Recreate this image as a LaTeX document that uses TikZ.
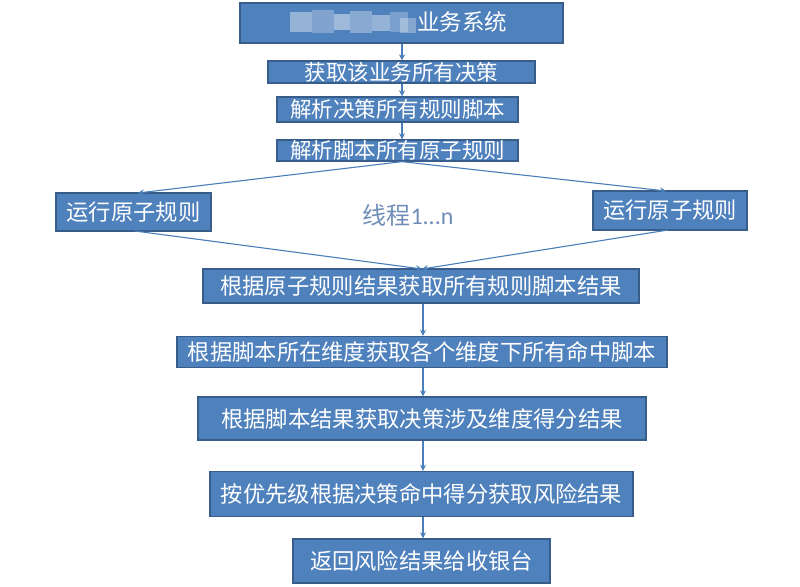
\documentclass[tikz,border=0pt]{standalone}
\usepackage{fontspec}
\newfontfamily\cjk{Noto Sans CJK SC}
\newfontfamily\latinf{Carlito}
\usetikzlibrary{arrows.meta}
\definecolor{boxfill}{HTML}{4F81BD}
\definecolor{boxline}{HTML}{385D8A}
\definecolor{conn}{HTML}{4A7EBB}
\definecolor{thread}{HTML}{6F8DB8}
\tikzset{
  flowbox/.style={draw=boxline, line width=1.3pt, fill=boxfill, text=white,
    inner sep=0pt, font=\cjk\fontsize{22.3}{24}\selectfont},
  smallbox/.style={flowbox, font=\cjk\fontsize{21.5}{22}\selectfont},
  conline/.style={draw=conn, line width=1.1pt, -{Stealth[length=6pt,width=6pt]}},
}
\begin{document}
\begin{tikzpicture}[x=1pt,y=-1pt]
\useasboundingbox (0,0) rectangle (800,586);
% top box
\node[flowbox, minimum width=323pt, minimum height=40pt] (top) at (401.5,23) {};
% blurred part
\fill[white, opacity=0.40] (290,12) rectangle (312,32);
\fill[white, opacity=0.28] (312,10) rectangle (334,33);
\fill[white, opacity=0.45] (334,14) rectangle (350,30);
\fill[white, opacity=0.32] (350,11) rectangle (372,33);
\fill[white, opacity=0.40] (372,15) rectangle (390,31);
\fill[white, opacity=0.25] (390,12) rectangle (408,32);
\fill[white, opacity=0.30] (400,18) rectangle (416,33);
\node[text=white, font=\cjk\fontsize{22.5}{24}\selectfont, anchor=west, inner sep=0pt] (toptext) at (417,22) {业务系统};
\node[smallbox, minimum width=267pt, minimum height=22pt] (b2) at (401.5,72) {获取该业务所有决策};
\node[smallbox, minimum width=241pt, minimum height=25pt] (b3) at (397.5,109.5) {解析决策所有规则脚本};
\node[smallbox, minimum width=241pt, minimum height=21pt] (b4) at (397.5,150.5) {解析脚本所有原子规则};
\node[flowbox, minimum width=155pt, minimum height=38pt] (left) at (133.5,212) {运行原子规则};
\node[flowbox, minimum width=154pt, minimum height=39pt] (right) at (670,210.5) {运行原子规则};
\node[text=thread, inner sep=0pt, font=\cjk\fontsize{24}{26}\selectfont] (thr) at (408,215) {线程{\latinf 1...n}};
\node[flowbox, minimum width=436pt, minimum height=34pt] (b5) at (421,286) {根据原子规则结果获取所有规则脚本结果};
\node[flowbox, minimum width=490pt, minimum height=31pt] (b6) at (422,352) {根据脚本所在维度获取各个维度下所有命中脚本};
\node[flowbox, minimum width=448pt, minimum height=43pt] (b7) at (422,418.5) {根据脚本结果获取决策涉及维度得分结果};
\node[flowbox, minimum width=423pt, minimum height=45pt] (b8) at (421.5,494) {按优先级根据决策命中得分获取风险结果};
\node[flowbox, minimum width=257pt, minimum height=44pt] (b9) at (421.5,561) {返回风险结果给收银台};
% connectors
\coordinate (t1) at (402,42.6);
\draw[conline] (top.south -| t1) -- (b2.north -| t1);
\draw[conline] (b2.south -| t1) -- (b3.north -| t1);
\draw[conline] (b3.south -| t1) -- (b4.north -| t1);
\coordinate (lt) at (138,193);
\coordinate (rt) at (666,191);
\coordinate (lb) at (135,231);
\coordinate (rb) at (668,230);
\coordinate (m5) at (422,269);
\draw[conline] (b4.south -| t1) -- (lt);
\draw[conline] (b4.south -| t1) -- (rt);
\draw[conline] (lb) -- (m5);
\draw[conline] (rb) -- (m5);
\coordinate (t2) at (423,0);
\draw[conline] (b5.south -| t2) -- (b6.north -| t2);
\draw[conline] (b6.south -| t2) -- (b7.north -| t2);
\draw[conline] (b7.south -| t2) -- (b8.north -| t2);
\draw[conline] (b8.south -| t2) -- (b9.north -| t2);
\end{tikzpicture}
\end{document}
